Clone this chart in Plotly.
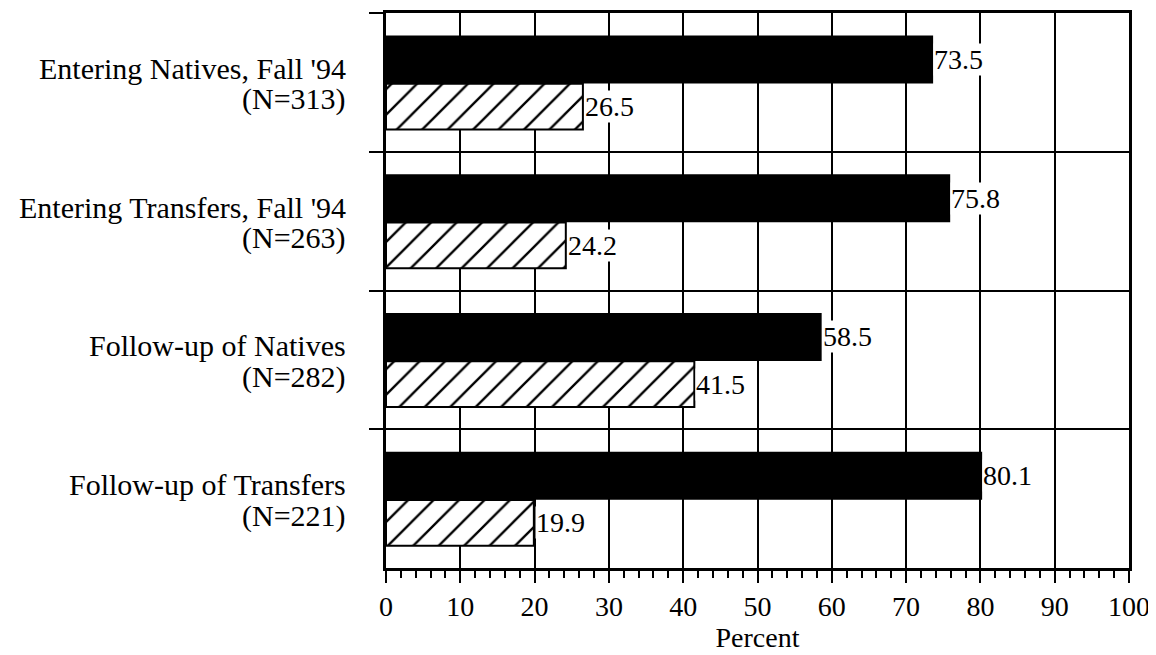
import plotly.graph_objects as go

categories = [
    "Entering Natives, Fall '94",
    "Entering Transfers, Fall '94",
    "Follow-up of Natives",
    "Follow-up of Transfers",
]
sample_sizes = ["(N=313)", "(N=263)", "(N=282)", "(N=221)"]
series_a = [73.5, 75.8, 58.5, 80.1]
series_b = [26.5, 24.2, 41.5, 19.9]
x_ticks = [0, 10, 20, 30, 40, 50, 60, 70, 80, 90, 100]

FONT = "Liberation Serif, Times New Roman, serif"
FS = 28
LFS = 30
BAR_W = 0.33

fig = go.Figure()
fig.add_trace(go.Bar(
    y=categories, x=series_a, orientation="h", name="A",
    marker=dict(color="black", line=dict(color="black", width=2)),
    width=BAR_W, offset=-BAR_W,
))
fig.add_trace(go.Bar(
    y=categories, x=series_b, orientation="h", name="B",
    marker=dict(color="white", line=dict(color="black", width=2),
                pattern=dict(shape="/", fgcolor="black", bgcolor="white", fgopacity=1,
                             size=18, solidity=0.13)),
    width=BAR_W, offset=0.01,
))

annotations = []
for i, (a, b) in enumerate(zip(series_a, series_b)):
    annotations.append(dict(x=a, y=i - BAR_W / 2, xref="x", yref="y", text=f"{a:.1f}",
                            showarrow=False, xanchor="left", yanchor="middle", xshift=1,
                            bgcolor="white", borderpad=0,
                            font=dict(family=FONT, size=FS, color="black")))
    annotations.append(dict(x=b, y=i + BAR_W / 2 + 0.01, xref="x", yref="y", text=f"{b:.1f}",
                            showarrow=False, xanchor="left", yanchor="middle", xshift=1,
                            bgcolor="white", borderpad=0,
                            font=dict(family=FONT, size=FS, color="black")))

for cat, n in zip(categories, sample_sizes):
    annotations.append(dict(x=0, y=cat, xref="paper", yref="y", text=cat,
                            showarrow=False, xanchor="right", yanchor="middle",
                            xshift=-38, yshift=14,
                            font=dict(family=FONT, size=LFS, color="black")))
    annotations.append(dict(x=0, y=cat, xref="paper", yref="y", text=n,
                            showarrow=False, xanchor="right", yanchor="middle",
                            xshift=-38, yshift=-17,
                            font=dict(family=FONT, size=LFS, color="black")))

fig.update_layout(
    width=1156, height=655,
    margin=dict(l=378, r=35, t=2, b=95),
    paper_bgcolor="white", plot_bgcolor="white",
    barmode="group", bargap=0.34, bargroupgap=0,
    showlegend=False,
    font=dict(family=FONT, size=FS, color="black"),
    annotations=annotations,
    xaxis=dict(
        range=[0, 100], tickvals=x_ticks, ticktext=[str(t) for t in x_ticks],
        showgrid=True, gridcolor="black", gridwidth=2,
        showline=True, linecolor="black", linewidth=2.5, mirror=True,
        ticks="outside", ticklen=12, tickwidth=2, tickcolor="black",
        minor=dict(dtick=2, tick0=0, ticks="outside", ticklen=7, tickwidth=1.5, tickcolor="black",
                   showgrid=False),
        tickfont=dict(family=FONT, size=FS, color="black"),
        title=dict(text="Percent", font=dict(family=FONT, size=FS, color="black"), standoff=3),
        zeroline=False, fixedrange=True,
    ),
    yaxis=dict(
        type="category", autorange="reversed",
        tickson="boundaries", ticks="outside", ticklen=14, tickwidth=2, tickcolor="black",
        showgrid=True, gridcolor="black", gridwidth=2,
        showline=True, linecolor="black", linewidth=2.5, mirror=True,
        showticklabels=False,
        fixedrange=True,
    ),
)

fig.write_html("out.html")
